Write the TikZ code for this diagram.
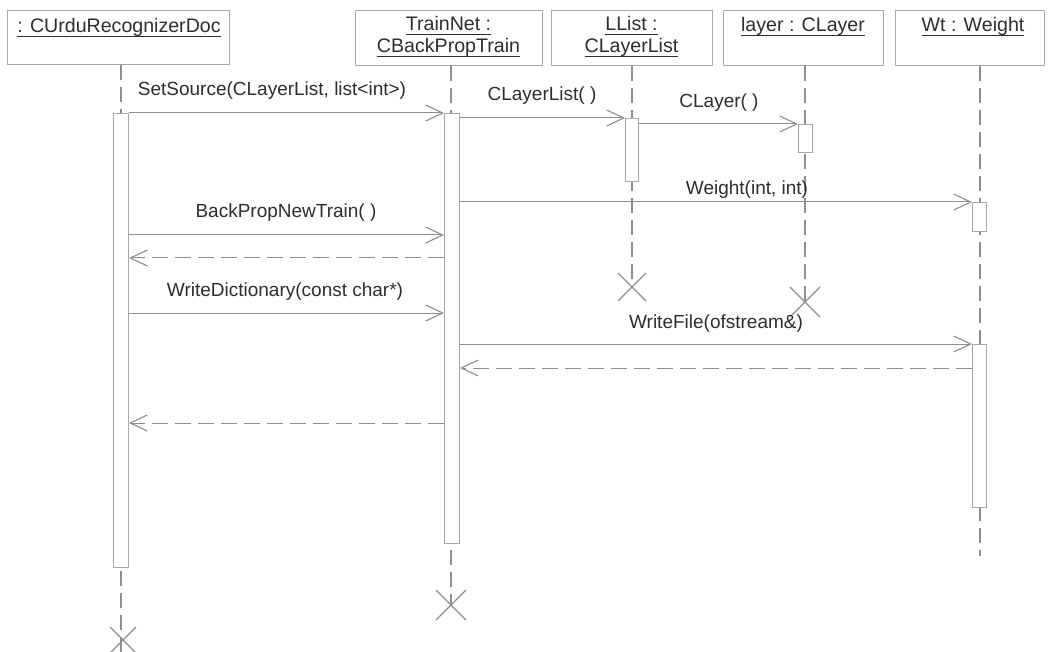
\documentclass[tikz,border=0pt]{standalone}
\usepackage{fontspec}
\setmainfont{Liberation Sans}
\usetikzlibrary{arrows.meta}
\definecolor{ln}{HTML}{8E8E8E}
\definecolor{bx}{HTML}{A8A8A8}
\definecolor{tx}{HTML}{2E2E2E}
\newcommand\myul[1]{\setbox0\hbox{#1}\rlap{\color{tx}\rule[-4pt]{\wd0}{0.9pt}}\box0}
\begin{document}
\begin{tikzpicture}[x=1pt,y=-1pt,
  font=\fontsize{19}{23}\selectfont,
  objbox/.style={draw=bx, line width=1pt, rectangle, inner sep=0pt, anchor=north west},
  objtext/.style={anchor=base, text=tx, inner sep=0pt, font=\fontsize{19.6}{23}\selectfont},
  life/.style={draw=ln, line width=1.1pt, dash pattern=on 15pt off 7pt},
  act/.style={draw=bx, fill=white, line width=1pt, rectangle, inner sep=0pt, anchor=north west},
  call/.style={draw=ln, line width=1pt, -{Straight Barb[length=17pt,width=16pt,line width=1.1pt]}},
  ret/.style={draw=ln, line width=1pt, dash pattern=on 16pt off 7pt, -{Straight Barb[length=17pt,width=16pt,line width=1.1pt]}},
  msg/.style={anchor=base, text=tx, inner sep=0pt},
  kill/.style={draw=ln, line width=1.1pt}]
\fill[white] (0,0) rectangle (1057,652);
\useasboundingbox (0,0) rectangle (1057,652);

% object boxes
\node[objbox, minimum width=222pt, minimum height=54pt] (docbox) at (7,10) {};
\node[objbox, minimum width=187pt, minimum height=55pt] (tbbox) at (355,10) {};
\node[objbox, minimum width=161pt, minimum height=55pt] (llbox) at (551,10) {};
\node[objbox, minimum width=160pt, minimum height=55pt] (laybox) at (723,10) {};
\node[objbox, minimum width=149pt, minimum height=55pt] (wtbox) at (895,10) {};

\node[objtext] (doct) at (119,33) {\myul{: CUrduRecognizerDoc}};
\node[objtext] (tbt1) at (448.5,31) {\myul{TrainNet :}};
\node[objtext] (tbt2) at (448.5,53) {\myul{CBackPropTrain}};
\node[objtext] (llt1) at (631.5,31) {\myul{LList :}};
\node[objtext] (llt2) at (631.5,53) {\myul{CLayerList}};
\node[objtext] (layt) at (803,32) {\myul{layer : CLayer}};
\node[objtext] (wtt) at (973,32) {\myul{Wt : Weight}};

% lifeline ends
\coordinate (docend) at (121,652);
\coordinate (tbx) at (451,605);
\coordinate (llx) at (632,287);
\coordinate (layx) at (805,302);
\coordinate (wtend) at (980,556);

\draw[life] (docend |- docbox.south) -- (docend);
\draw[life] (tbx |- tbbox.south) -- (tbx);
\draw[life] (llx |- llbox.south) -- (llx);
\draw[life] (layx |- laybox.south) -- (layx);
\draw[life] (wtend |- wtbox.south) -- (wtend);

% activation bars
\node[act, minimum width=15pt, minimum height=454pt] (docact) at (113,113) {};
\node[act, minimum width=15pt, minimum height=430pt] (tbact) at (444,113) {};
\node[act, minimum width=13pt, minimum height=63pt] (llact) at (625,118) {};
\node[act, minimum width=14pt, minimum height=28pt] (layact) at (798,124) {};
\node[act, minimum width=14pt, minimum height=29pt] (wtact1) at (972,202) {};
\node[act, minimum width=14pt, minimum height=163pt] (wtact2) at (972,344) {};

% destruction marks
\draw[kill] ([shift={(-14,-14)}]llx) -- ([shift={(14,14)}]llx)
            ([shift={(-14,14)}]llx) -- ([shift={(14,-14)}]llx);
\draw[kill] ([shift={(-15,-15)}]layx) -- ([shift={(15,15)}]layx)
            ([shift={(-15,15)}]layx) -- ([shift={(15,-15)}]layx);
\draw[kill] ([shift={(-15,-15)}]tbx) -- ([shift={(15,15)}]tbx)
            ([shift={(-15,15)}]tbx) -- ([shift={(15,-15)}]tbx);
\coordinate (docx) at (123,640);
\draw[kill] ([shift={(-13,-13)}]docx) -- ([shift={(13,13)}]docx)
            ([shift={(-13,13)}]docx) -- ([shift={(13,-13)}]docx);

% message rows
\coordinate (m5) at (0,235);
\coordinate (m7) at (0,313);
\coordinate (r1) at (0,258);
\coordinate (r2) at (0,368);
\coordinate (r3) at (0,423);

% calls
\draw[call] (docact.north east) -- (tbact.north west);
\draw[call] (tbact.east |- llact.north) -- (llact.north west);
\draw[call] (llact.east |- layact.north) -- (layact.north west);
\draw[call] (tbact.east |- wtact1.north) -- (wtact1.north west);
\draw[call] (docact.east |- m5) -- (tbact.west |- m5);
\draw[call] (docact.east |- m7) -- (tbact.west |- m7);
\draw[call] (tbact.east |- wtact2.north) -- (wtact2.north west);

% returns
\draw[ret] (tbact.west |- r1) -- (docact.east |- r1);
\draw[ret] (wtact2.west |- r2) -- (tbact.east |- r2);
\draw[ret] (tbact.west |- r3) -- (docact.east |- r3);

% labels
\node[msg] (l1) at (272,96) {SetSource(CLayerList, list<int>)};
\node[msg] (l2) at (542,101) {CLayerList( )};
\node[msg] (l3) at (719,108) {CLayer( )};
\node[msg] (l4) at (747,195) {Weight(int, int)};
\node[msg] (l5) at (286,218) {BackPropNewTrain( )};
\node[msg] (l7) at (285,297) {WriteDictionary(const char*)};
\node[msg] (l8) at (716,328) {WriteFile(ofstream\&)};
\end{tikzpicture}
\end{document}
